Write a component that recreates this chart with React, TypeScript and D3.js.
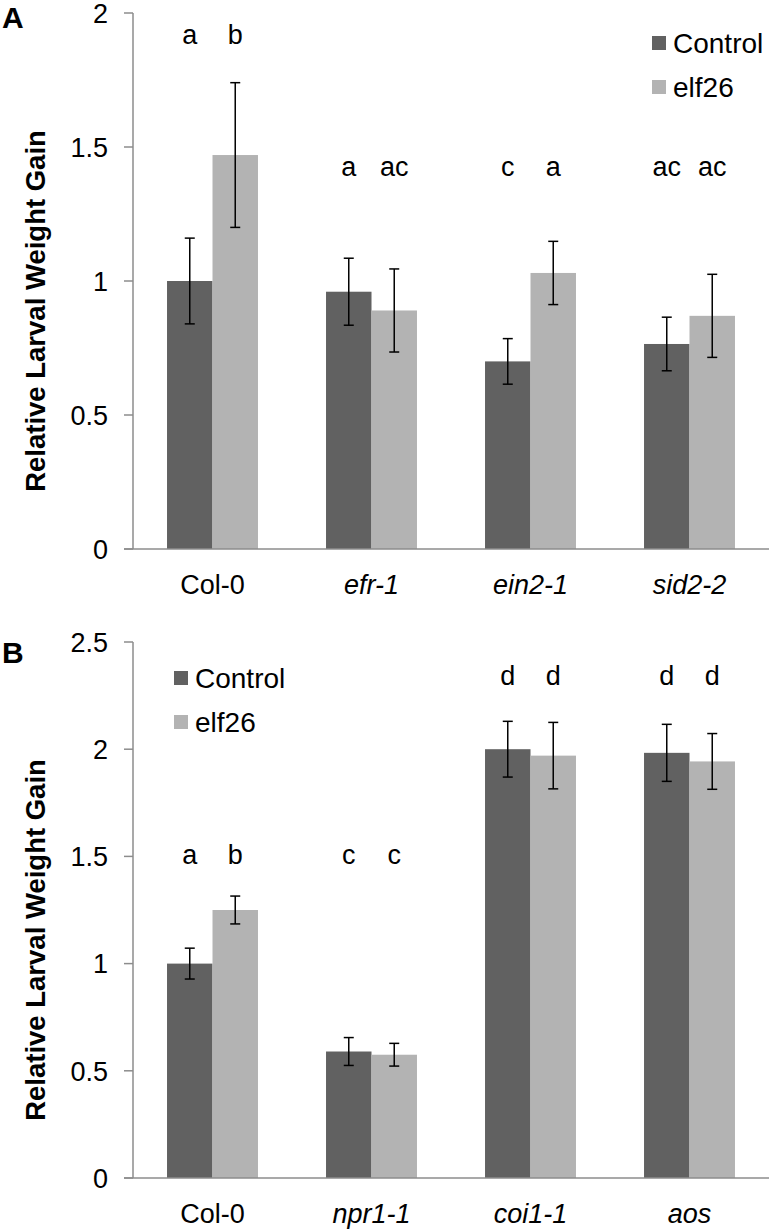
import React from 'react';
import * as d3 from 'd3';

const series = ['Control', 'elf26'];
const colors = ['#616161', '#b3b3b3'];

const categoriesA = ['Col-0', 'efr-1', 'ein2-1', 'sid2-2'];
const controlA = [1.0, 0.96, 0.7, 0.765];
const elf26A = [1.47, 0.89, 1.03, 0.87];
const controlErrA = [0.16, 0.125, 0.085, 0.1];
const elf26ErrA = [0.27, 0.155, 0.118, 0.155];
const lettersA = [['a', 'b'], ['a', 'ac'], ['c', 'a'], ['ac', 'ac']];
const letterLevelA = [1.885, 1.39, 1.39, 1.39];
const ticksA = [0, 0.5, 1, 1.5, 2];

const categoriesB = ['Col-0', 'npr1-1', 'coi1-1', 'aos'];
const controlB = [1.0, 0.59, 2.0, 1.983];
const elf26B = [1.25, 0.575, 1.97, 1.943];
const controlErrB = [0.072, 0.065, 0.13, 0.133];
const elf26ErrB = [0.065, 0.053, 0.155, 0.13];
const lettersB = [['a', 'b'], ['c', 'c'], ['d', 'd'], ['d', 'd']];
const letterLevelB = [1.465, 1.465, 2.3, 2.3];
const ticksB = [0, 0.5, 1, 1.5, 2, 2.5];

const font = 'Liberation Sans, Arial, Helvetica, sans-serif';
const axisColor = '#8c8c8c';
const left = 133;
const right = 769;
const fs = 27;

type PanelProps = {
    label: string;
    labelY: number;
    top: number;
    bottom: number;
    categories: string[];
    values: number[][];
    errors: number[][];
    letters: string[][];
    letterLevel: number[];
    ticks: number[];
    legend: { x: number; y: number };
};

const Panel = ({ label, labelY, top, bottom, categories, values, errors, letters, letterLevel, ticks, legend }: PanelProps) => {
    const x0 = d3.scaleBand<string>()
        .domain(categories)
        .range([left, right])
        .paddingInner(0.428)
        .paddingOuter(0.214);
    const x1 = d3.scaleBand<string>()
        .domain(series)
        .range([0, x0.bandwidth()]);
    const y = d3.scaleLinear()
        .domain([0, d3.max(ticks) as number])
        .range([bottom, top]);

    return (
        <g>
            <text x={2} y={labelY} fontFamily={font} fontWeight="bold" fontSize={30}>{label}</text>

            {/* bars */}
            {categories.map((c, i) => (
                <g key={c} transform={`translate(${x0(c)},0)`}>
                    {series.map((s, j) => (
                        <rect
                            key={s}
                            x={x1(s)}
                            y={y(values[j][i])}
                            width={x1.bandwidth()}
                            height={bottom - y(values[j][i])}
                            fill={colors[j]}
                        />
                    ))}
                </g>
            ))}

            {/* y axis */}
            <line x1={left} x2={left} y1={top} y2={bottom} stroke={axisColor} strokeWidth={1.5} />
            {ticks.map(t => (
                <g key={t}>
                    <line x1={left - 9} x2={left} y1={y(t)} y2={y(t)} stroke={axisColor} strokeWidth={1.5} />
                    <text x={108} y={y(t)} dy="0.36em" textAnchor="end" fontFamily={font} fontSize={fs}>{d3.format('~g')(t)}</text>
                </g>
            ))}
            <line x1={left - 9} x2={right} y1={bottom} y2={bottom} stroke={axisColor} strokeWidth={1.5} />

            {/* error bars */}
            {categories.map((c, i) => (
                <g key={c} transform={`translate(${x0(c)},0)`}>
                    {series.map((s, j) => {
                        const cx = (x1(s) as number) + x1.bandwidth() / 2;
                        const hi = y(values[j][i] + errors[j][i]);
                        const lo = y(values[j][i] - errors[j][i]);
                        return (
                            <g key={s} stroke="#000" strokeWidth={1.5}>
                                <line x1={cx} x2={cx} y1={hi} y2={lo} />
                                <line x1={cx - 5} x2={cx + 5} y1={hi} y2={hi} />
                                <line x1={cx - 5} x2={cx + 5} y1={lo} y2={lo} />
                            </g>
                        );
                    })}
                </g>
            ))}

            {/* letters */}
            {categories.map((c, i) => (
                <g key={c} transform={`translate(${x0(c)},0)`}>
                    {series.map((s, j) => (
                        <text
                            key={s}
                            x={(x1(s) as number) + x1.bandwidth() / 2}
                            y={y(letterLevel[i])}
                            textAnchor="middle"
                            fontFamily={font}
                            fontSize={fs}
                        >
                            {letters[i][j]}
                        </text>
                    ))}
                </g>
            ))}

            {/* category labels */}
            {categories.map((c, i) => (
                <text
                    key={c}
                    x={(x0(c) as number) + x0.bandwidth() / 2}
                    y={bottom + 45}
                    textAnchor="middle"
                    fontFamily={font}
                    fontSize={fs}
                    fontStyle={i === 0 ? 'normal' : 'italic'}
                >
                    {c}
                </text>
            ))}

            {/* y title */}
            <text
                transform={`translate(45,${(top + bottom) / 2 + 30}) rotate(-90)`}
                textAnchor="middle"
                fontFamily={font}
                fontWeight="bold"
                fontSize={27.5}
            >
                Relative Larval Weight Gain
            </text>

            {/* legend */}
            {series.map((s, j) => (
                <g key={s} transform={`translate(${legend.x},${legend.y + j * 44})`}>
                    <rect x={0} y={-7} width={14} height={14} fill={colors[j]} />
                    <text x={21} y={0} dy="0.36em" fontFamily={font} fontSize={28}>{s}</text>
                </g>
            ))}
        </g>
    );
};

const App = () => {
    return (
        <svg
            width={771}
            height={1230}
            viewBox="0 0 771 1230"
            style={{ position: 'absolute', left: 0, top: 0, background: '#fff' }}
        >
            <rect width={771} height={1230} fill="#fff" />
            <Panel
                label="A"
                labelY={28}
                top={13}
                bottom={549}
                categories={categoriesA}
                values={[controlA, elf26A]}
                errors={[controlErrA, elf26ErrA]}
                letters={lettersA}
                letterLevel={letterLevelA}
                ticks={ticksA}
                legend={{ x: 652, y: 43 }}
            />
            <Panel
                label="B"
                labelY={663}
                top={642}
                bottom={1178}
                categories={categoriesB}
                values={[controlB, elf26B]}
                errors={[controlErrB, elf26ErrB]}
                letters={lettersB}
                letterLevel={letterLevelB}
                ticks={ticksB}
                legend={{ x: 174, y: 678 }}
            />
        </svg>
    );
};

export default App;
